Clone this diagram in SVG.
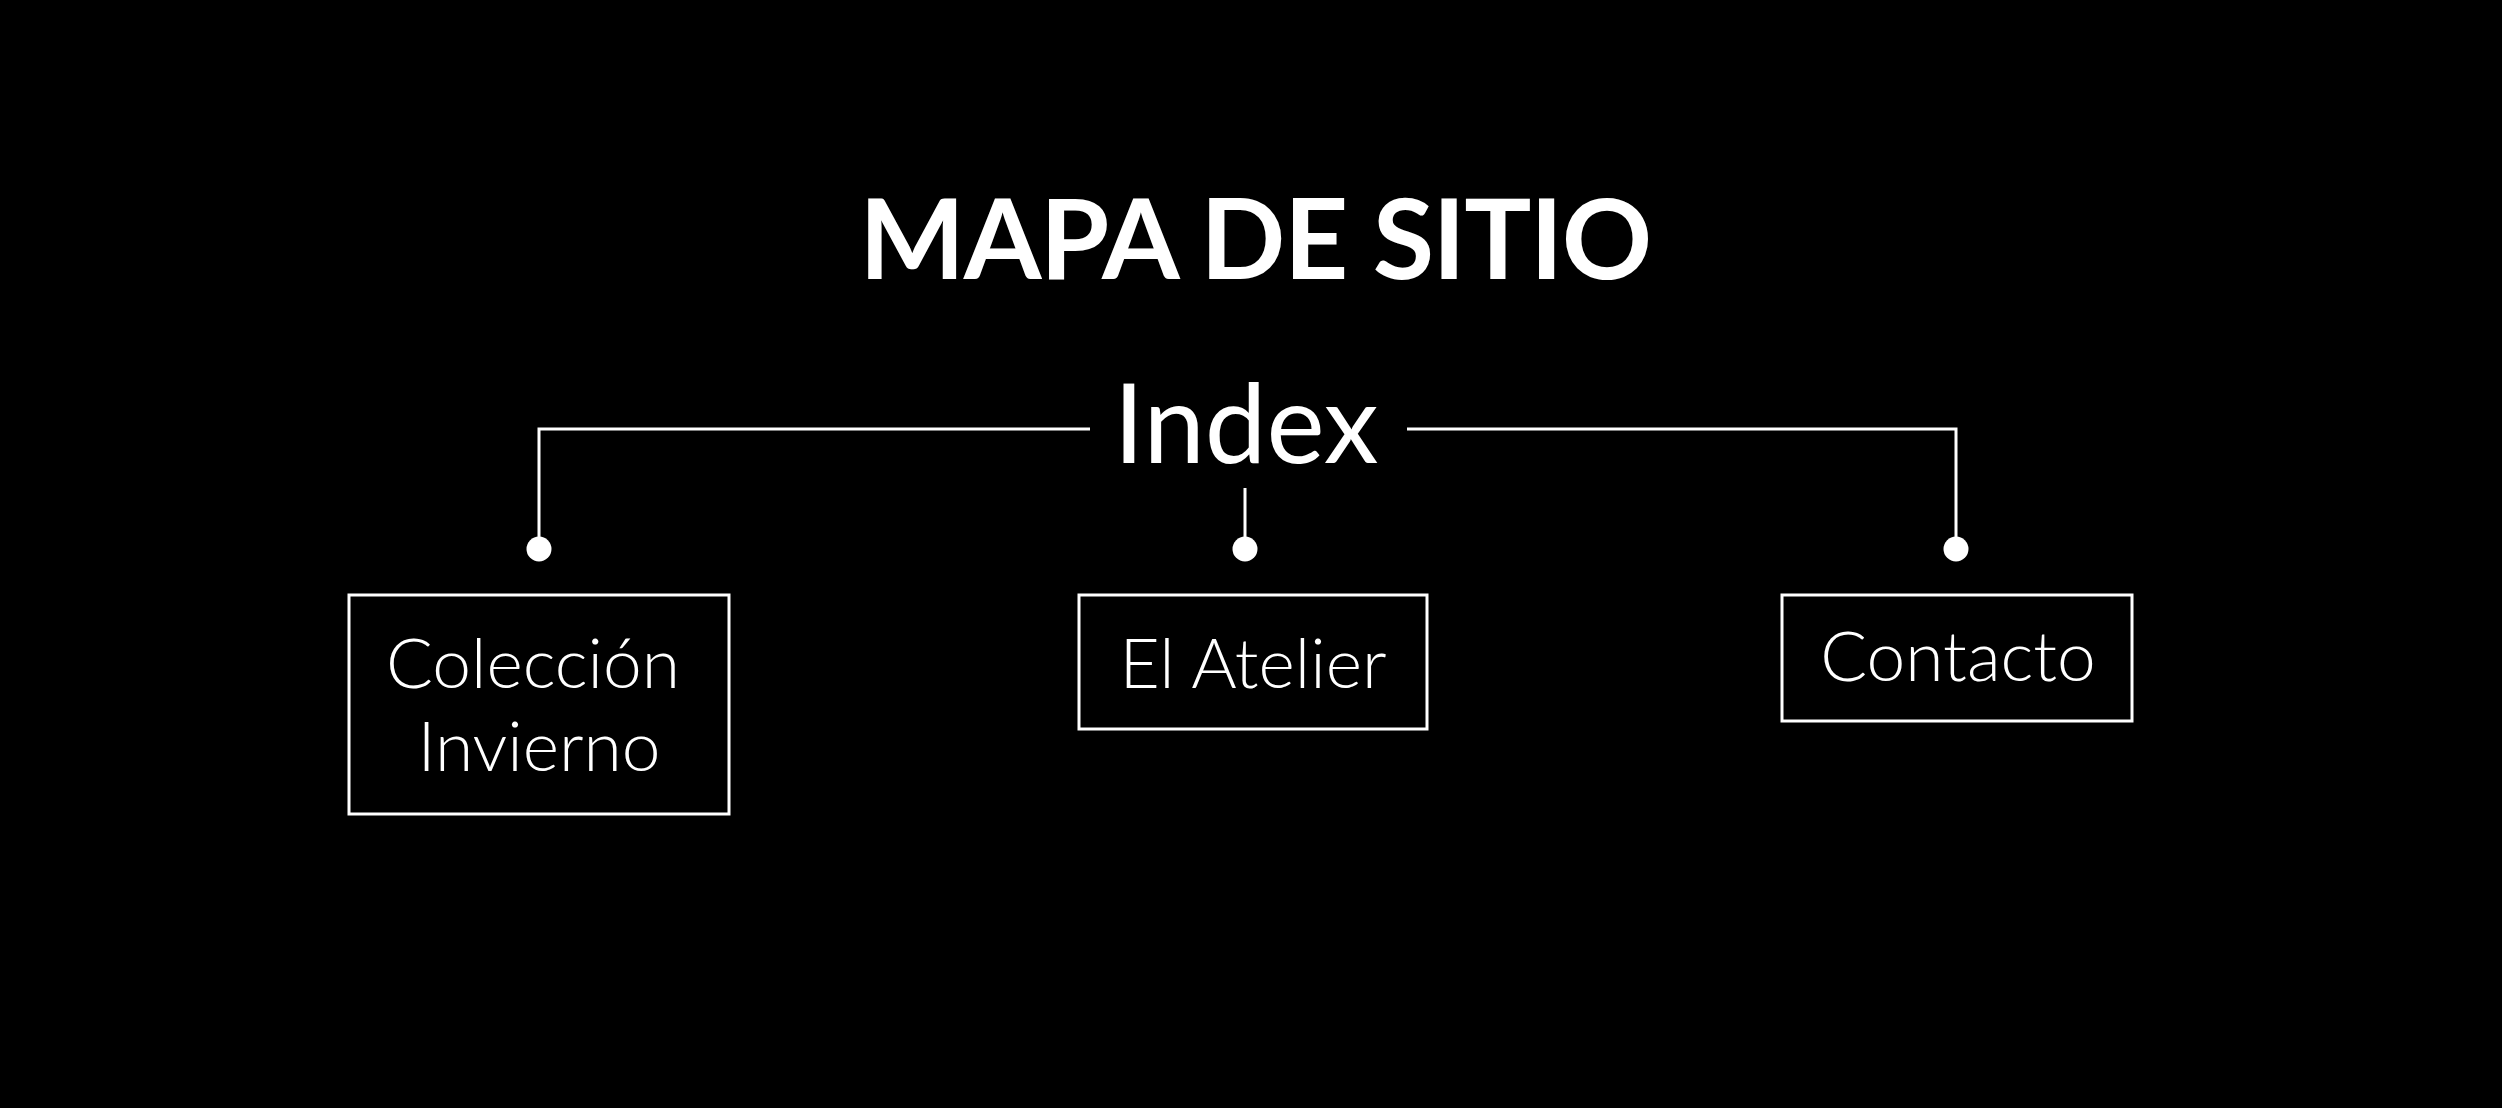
<svg xmlns="http://www.w3.org/2000/svg" width="2502" height="1108" viewBox="0 0 2502 1108">
<style>
.t{fill:#fff;font-family:Lato,"Liberation Sans",sans-serif;text-anchor:middle}
.title{font-weight:700;font-size:112px;letter-spacing:-1.5px}
.idx{font-weight:400;font-size:110px}
.lbl{font-weight:300;font-size:69.5px}
.box{fill:none;stroke:#fff;stroke-width:3}
.ln{fill:none;stroke:#fff;stroke-width:3}
.dot{fill:#fff}
</style>
<rect width="2502" height="1108" fill="#000"/>
<text class="t title" x="1255" y="279">MAPA DE SITIO</text>
<g id="connectors">
<polyline class="ln" points="1090,429 539,429 539,549"/>
<polyline class="ln" points="1407,429 1956,429 1956,549"/>
<line class="ln" x1="1245" y1="488" x2="1245" y2="549"/>
<circle class="dot" cx="539" cy="549" r="12.5"/>
<circle class="dot" cx="1245" cy="549" r="12.5"/>
<circle class="dot" cx="1956" cy="549" r="12.5"/>
</g>
<g id="index">
<text class="t idx" x="1246" y="463">Index</text>
</g>
<g id="coleccion">
<rect class="box" x="349" y="595" width="380" height="219"/>
<text class="t lbl" x="533" y="688">Colección</text>
<text class="t lbl" x="539" y="771">Invierno</text>
</g>
<g id="atelier">
<rect class="box" x="1079" y="595" width="348" height="134"/>
<text class="t lbl" x="1253" y="688">El Atelier</text>
</g>
<g id="contacto">
<rect class="box" x="1782" y="595" width="350" height="126"/>
<text class="t lbl" x="1958" y="681">Contacto</text>
</g>
</svg>
